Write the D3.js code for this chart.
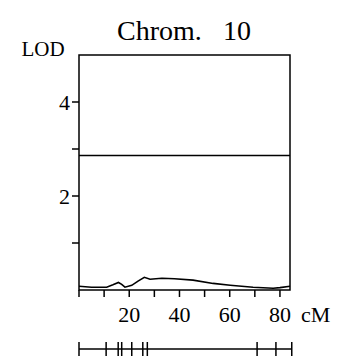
<!DOCTYPE html>
<html>
<head>
<meta charset="utf-8">
<script src="https://cdn.jsdelivr.net/npm/d3@7/dist/d3.min.js"></script>
<style>
	body { margin: 0; background: #fff; }
	text { font-family: "Liberation Serif", "DejaVu Serif", serif; fill: #000; }
</style>
</head>
<body>
<div id="chart"></div>
<script>
// LOD profile along chromosome 10 (cM, LOD)
var positions = [0, 5, 11, 13.5, 15.7, 17, 18.3, 21, 23.5, 26, 28.3, 33, 38, 45.4, 53.4, 60.2, 69.3, 77.3, 80, 84];
var lods = [0.08, 0.06, 0.06, 0.11, 0.16, 0.12, 0.06, 0.10, 0.19, 0.27, 0.23, 0.25, 0.24, 0.21, 0.14, 0.10, 0.057, 0.036, 0.05, 0.08];
var threshold = 2.86;
var markers = [0, 10.8, 15.6, 17.0, 21.0, 25.4, 27.2, 70.9, 78.4, 84.7];
var xTicks = [0, 10, 20, 30, 40, 50, 60, 70, 80];
var xLabels = [20, 40, 60, 80];
var yTicks = [1, 2, 3, 4];
var yLabels = [2, 4];

var width = 344, height = 360;
// plot box (note: "top" is reserved on window, so use a margin object)
var box = {left: 79, right: 290, top: 55, bottom: 290};
var tickLen = 7;

var svg = d3.select('#chart').append('svg')
	.attr('width', width)
	.attr('height', height);

var x = d3.scaleLinear().domain([0, 84]).range([box.left, box.right]);
var y = d3.scaleLinear().domain([0, 5]).range([box.bottom, box.top]);

// title and axis names
svg.append('text')
	.attr('x', 117)
	.attr('y', 40)
	.style('font-size', '28px')
	.text('Chrom.')
	.append('tspan')
	.attr('x', 223)
	.text('10');

svg.append('text')
	.attr('x', 21.5)
	.attr('y', 55.5)
	.style('font-size', '21px')
	.text('LOD');

// frame
svg.append('rect')
	.attr('x', box.left)
	.attr('y', box.top)
	.attr('width', box.right - box.left)
	.attr('height', box.bottom - box.top)
	.attr('fill', 'none')
	.attr('stroke', '#000')
	.attr('stroke-width', 1.5);

// x ticks
var xa = svg.append('g');
xa.selectAll('line')
	.data(xTicks)
	.enter()
	.append('line')
	.attr('x1', function (d) { return x(d); })
	.attr('x2', function (d) { return x(d); })
	.attr('y1', box.bottom)
	.attr('y2', box.bottom + tickLen)
	.attr('stroke', '#000')
	.attr('stroke-width', 1.5);
xa.selectAll('text')
	.data(xLabels)
	.enter()
	.append('text')
	.attr('x', function (d) { return x(d); })
	.attr('y', 321.5)
	.attr('text-anchor', 'middle')
	.style('font-size', '22px')
	.text(function (d) { return d; });
xa.append('text')
	.attr('x', 301)
	.attr('y', 321.5)
	.style('font-size', '22px')
	.text('cM');

// y ticks
var ya = svg.append('g');
ya.selectAll('line')
	.data(yTicks)
	.enter()
	.append('line')
	.attr('x1', box.left - tickLen)
	.attr('x2', box.left)
	.attr('y1', function (d) { return y(d); })
	.attr('y2', function (d) { return y(d); })
	.attr('stroke', '#000')
	.attr('stroke-width', 1.5);
ya.selectAll('text')
	.data(yLabels)
	.enter()
	.append('text')
	.attr('x', box.left - tickLen - 2)
	.attr('y', function (d) { return y(d) + 7.5; })
	.attr('text-anchor', 'end')
	.style('font-size', '22px')
	.text(function (d) { return d; });

// threshold
svg.append('line')
	.attr('x1', box.left)
	.attr('x2', box.right)
	.attr('y1', y(threshold))
	.attr('y2', y(threshold))
	.attr('stroke', '#000')
	.attr('stroke-width', 1.5);

// LOD curve
var pts = positions.map(function (p, i) { return [p, lods[i]]; });
svg.append('path')
	.datum(pts)
	.attr('fill', 'none')
	.attr('stroke', '#000')
	.attr('stroke-width', 1.6)
	.attr('d', d3.line()
		.x(function (d) { return x(d[0]); })
		.y(function (d) { return y(d[1]); }));

// marker map
var my = 349;
var mg = svg.append('g');
mg.append('line')
	.attr('x1', x(markers[0]))
	.attr('x2', x(markers[markers.length - 1]))
	.attr('y1', my)
	.attr('y2', my)
	.attr('stroke', '#000')
	.attr('stroke-width', 1.5);
mg.selectAll('line.m')
	.data(markers)
	.enter()
	.append('line')
	.attr('class', 'm')
	.attr('x1', function (d) { return x(d); })
	.attr('x2', function (d) { return x(d); })
	.attr('y1', my - 7)
	.attr('y2', my + 7)
	.attr('stroke', '#000')
	.attr('stroke-width', 1.5);
</script>
</body>
</html>
